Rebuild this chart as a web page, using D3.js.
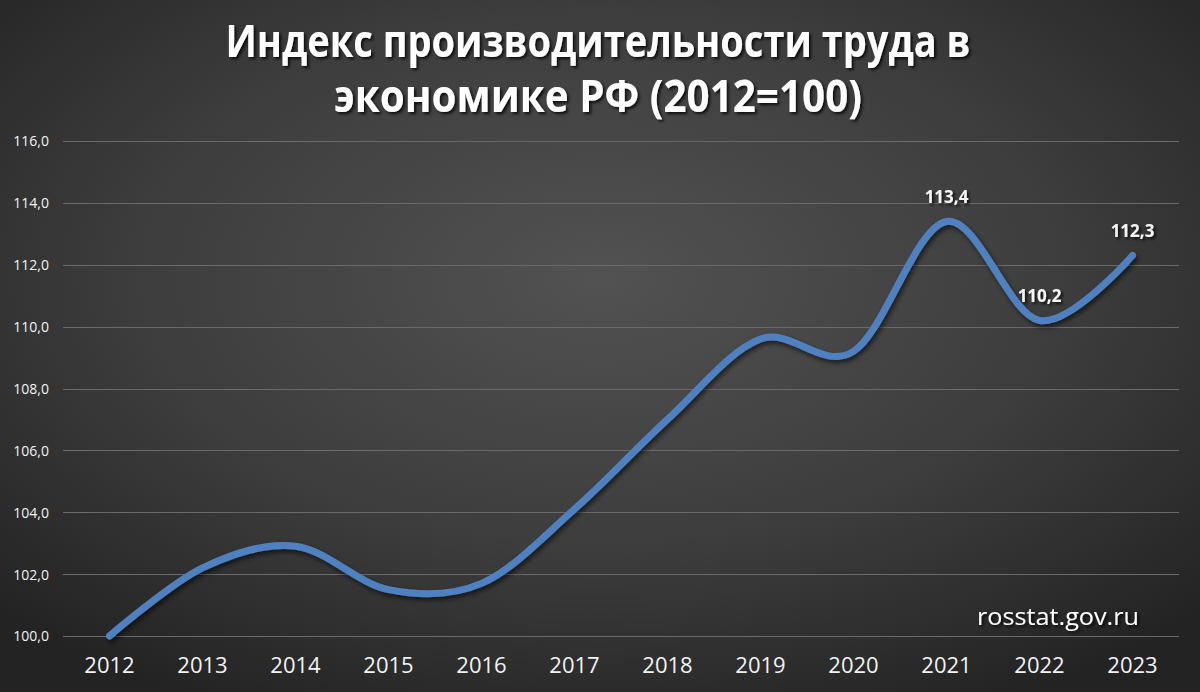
<!DOCTYPE html>
<html><head><meta charset="utf-8">
<script src="https://cdn.jsdelivr.net/npm/d3@7"></script>
<style>html,body{margin:0;padding:0;background:#333;}svg{display:block;}</style>
</head><body>
<script>
const years = ["2012","2013","2014","2015","2016","2017","2018","2019","2020","2021","2022","2023"];
const values = [100.0, 102.2, 102.9, 101.5, 101.7, 104.1, 107.0, 109.6, 109.2, 113.4, 110.2, 112.3];
const labelYears = ["2021","2022","2023"];
const yTicks = [100,102,104,106,108,110,112,114,116];
const titleLines = ["Индекс производительности труда в","экономике РФ (2012=100)"];
const sourceText = "rosstat.gov.ru";

const W = 1200, H = 692;
const fmt = v => d3.format(".1f")(v).replace(".", ",");

const svg = d3.select("body").append("svg").attr("width", W).attr("height", H);
const defs = svg.append("defs");
const grad = defs.append("radialGradient").attr("id","bg").attr("cx","50%").attr("cy","40%").attr("r","70%");
grad.append("stop").attr("offset","0%").attr("stop-color","#525252");
grad.append("stop").attr("offset","55%").attr("stop-color","#3d3d3d");
grad.append("stop").attr("offset","100%").attr("stop-color","#232323");
const sh = defs.append("filter").attr("id","sh").attr("x","-10%").attr("y","-10%").attr("width","120%").attr("height","130%");
sh.append("feDropShadow").attr("dx",2).attr("dy",3).attr("stdDeviation",2.5).attr("flood-color","#000").attr("flood-opacity",0.6);
const tsh = defs.append("filter").attr("id","tsh").attr("x","-5%").attr("y","-20%").attr("width","110%").attr("height","150%");
tsh.append("feDropShadow").attr("dx",2).attr("dy",2).attr("stdDeviation",1.5).attr("flood-color","#000").attr("flood-opacity",0.8);

svg.append("rect").attr("width",W).attr("height",H).attr("fill","url(#bg)");

const x = d3.scaleBand().domain(years).range([63, 1179]);
const y = d3.scaleLinear().domain([100,116]).range([636, 141]);

// gridlines
svg.append("g").selectAll("line").data(yTicks).join("line")
  .attr("x1", 63).attr("x2", 1179)
  .attr("y1", d => Math.round(y(d)) + 0.5).attr("y2", d => Math.round(y(d)) + 0.5)
  .attr("stroke", "#6a6a6a").attr("stroke-width", 1);

// y axis
const yAxis = svg.append("g").attr("transform","translate(49,0)")
  .call(d3.axisLeft(y).tickValues(yTicks).tickFormat(fmt).tickSize(0).tickPadding(0));
yAxis.select(".domain").remove();
yAxis.selectAll("text").attr("fill","#f2f2f2").attr("font-family","'Open Sans', sans-serif").attr("font-size",14).attr("dy","0.35em");

// x axis
const xAxis = svg.append("g").attr("transform","translate(0,655)")
  .call(d3.axisBottom(x).tickSize(0).tickPadding(0));
xAxis.select(".domain").remove();
xAxis.selectAll("text").attr("fill","#f2f2f2").attr("font-family","'Open Sans', sans-serif").attr("font-size",22).attr("dy","0.8em");

// line
const data = years.map((yr,i) => ({yr, v: values[i]}));
const line = d3.line().x(d => x(d.yr) + x.bandwidth()/2).y(d => y(d.v)).curve(d3.curveCardinal.tension(0));
svg.append("path").datum(data).attr("d", line)
  .attr("fill","none").attr("stroke","#4f81c0").attr("stroke-width",7)
  .attr("stroke-linecap","round").attr("stroke-linejoin","round").attr("filter","url(#sh)");

// data labels
svg.append("g").selectAll("text").data(data.filter(d => labelYears.includes(d.yr))).join("text")
  .attr("x", d => x(d.yr) + x.bandwidth()/2)
  .attr("y", d => y(d.v) - 18)
  .attr("text-anchor","middle").attr("fill","#f5f5f5")
  .attr("font-family","'Open Sans', sans-serif").attr("font-weight","bold").attr("font-size",17)
  .attr("filter","url(#tsh)")
  .text(d => fmt(d.v));

// title
const tl = [{t: titleLines[0], y: 57, w: 745}, {t: titleLines[1], y: 112, w: 528}];
svg.append("g").selectAll("text").data(tl).join("text")
  .attr("x", 598).attr("y", d => d.y).attr("text-anchor","middle")
  .attr("fill","#ffffff").attr("font-family","'Open Sans', sans-serif").attr("font-weight","bold").attr("font-size",44)
  .attr("textLength", d => d.w).attr("lengthAdjust","spacingAndGlyphs")
  .attr("filter","url(#tsh)")
  .text(d => d.t);

// source
svg.append("text").attr("x", 977).attr("y", 625)
  .attr("fill","#ffffff").attr("font-family","'Open Sans', sans-serif").attr("font-size",24)
  .attr("textLength", 162).attr("lengthAdjust","spacingAndGlyphs")
  .attr("filter","url(#tsh)")
  .text(sourceText);
</script>
</body></html>
